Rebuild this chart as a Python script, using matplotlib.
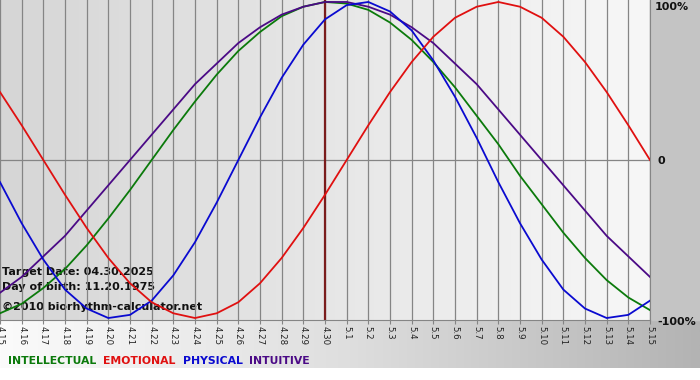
import numpy as np
import matplotlib
matplotlib.use('Agg')
import matplotlib.pyplot as plt

days = ['4.15', '4.16', '4.17', '4.18', '4.19', '4.20', '4.21', '4.22', '4.23', '4.24',
        '4.25', '4.26', '4.27', '4.28', '4.29', '4.30', '5.1', '5.2', '5.3', '5.4',
        '5.5', '5.6', '5.7', '5.8', '5.9', '5.10', '5.11', '5.12', '5.13', '5.14', '5.15']

intellectual = [-0.97, -0.91, -0.81, -0.69, -0.54, -0.37, -0.19, 0.00, 0.19, 0.37,
                0.54, 0.69, 0.81, 0.91, 0.97, 1.00, 0.99, 0.95, 0.87, 0.76,
                0.62, 0.46, 0.28, 0.10, -0.10, -0.28, -0.46, -0.62, -0.76, -0.87, -0.95]
emotional = [0.43, 0.22, 0.00, -0.22, -0.43, -0.62, -0.78, -0.90, -0.97, -1.00,
             -0.97, -0.90, -0.78, -0.62, -0.43, -0.22, 0.00, 0.22, 0.43, 0.62,
             0.78, 0.90, 0.97, 1.00, 0.97, 0.90, 0.78, 0.62, 0.43, 0.22, 0.00]
physical = [-0.14, -0.40, -0.63, -0.82, -0.94, -1.00, -0.98, -0.89, -0.73, -0.52,
            -0.27, 0.00, 0.27, 0.52, 0.73, 0.89, 0.98, 1.00, 0.94, 0.82,
            0.63, 0.40, 0.14, -0.14, -0.40, -0.63, -0.82, -0.94, -1.00, -0.98, -0.89]
intuitive = [-0.84, -0.74, -0.61, -0.48, -0.32, -0.16, 0.00, 0.16, 0.32, 0.48,
             0.61, 0.74, 0.84, 0.92, 0.97, 1.00, 1.00, 0.97, 0.92, 0.84,
             0.74, 0.61, 0.48, 0.32, 0.16, 0.00, -0.16, -0.32, -0.48, -0.61, -0.74]

target_idx = days.index('4.30')

c_int = '#0b7a0b'
c_emo = '#e01010'
c_phy = '#0a0ad0'
c_itu = '#4b0a86'
grid_c = '#858585'

W, H = 700, 380
fig = plt.figure(figsize=(7, 3.8), dpi=100)

# background, drawn in pixel coordinates
bg = fig.add_axes([0, 0, 1, 1])
bg.set_xlim(0, W)
bg.set_ylim(H, 0)
bg.axis('off')
grad = np.linspace(0, 1, 256).reshape(1, -1)
bg.imshow(grad, cmap=matplotlib.colors.LinearSegmentedColormap.from_list('a', ['#fbfbfb', '#dedede', '#b3b3b3']),
          extent=(0, W, 368, 320), aspect='auto', zorder=0)
bg.imshow(grad, cmap=matplotlib.colors.LinearSegmentedColormap.from_list('b', ['#d6d6d6', '#f7f7f7']),
          extent=(0, 650, 320, 0), aspect='auto', zorder=0)
bg.add_patch(plt.Rectangle((650, 0), 50, 320, color='#c4c4c4', zorder=0))

bold = dict(fontsize=8.0, fontweight='bold', color='#111111', family='DejaVu Sans')
bg.text(2, 272, 'Target Date: 04.30.2025', va='center', ha='left', zorder=5, **bold)
bg.text(2, 287, 'Day of birth: 11.20.1975', va='center', ha='left', zorder=5, **bold)
bg.text(2, 307, '\u00a92010 biorhythm-calculator.net', va='center', ha='left', zorder=5, **bold)

bg.text(655, 7, '100%', va='center', ha='left', **bold)
bg.text(657, 161, '0', va='center', ha='left', **bold)
bg.text(657, 322, '-100%', va='center', ha='left', **bold)

legend = [('INTELLECTUAL', c_int), ('EMOTIONAL', c_emo), ('PHYSICAL', c_phy), ('INTUITIVE', c_itu)]
xpos = 8
for name, col in legend:
    t = bg.text(xpos, 361, name, color=col, fontsize=7.8, fontweight='bold', va='center', ha='left')
    fig.canvas.draw()
    xpos += t.get_window_extent().width + 7

# main chart
ax = fig.add_axes([0, (H - 320) / H, 650 / W, 320 / H])
ax.set_facecolor('none')
x = np.arange(len(days))
ax.set_xlim(0, len(days) - 1)
ax.set_ylim(-1.0125, 1.0125)

for xi in x:
    ax.axvline(xi, color=grid_c, lw=0.9, zorder=1)
ax.axhline(0, color=grid_c, lw=0.9, zorder=1)
ax.axvline(target_idx, color='#7a1c1c', lw=1.6, zorder=2)

ax.plot(x, intellectual, color=c_int, lw=1.3, zorder=3)
ax.plot(x, intuitive, color=c_itu, lw=1.3, zorder=3)
ax.plot(x, physical, color=c_phy, lw=1.3, zorder=3)
ax.plot(x, emotional, color=c_emo, lw=1.3, zorder=3)

for s in ['top', 'left']:
    ax.spines[s].set_visible(False)
ax.spines['bottom'].set_color(grid_c)
ax.spines['right'].set_color(grid_c)
ax.set_yticks([])
ax.set_xticks(x)
ax.set_xticklabels(days, rotation=270, fontsize=6.2, color='#222222')
ax.tick_params(axis='x', length=3, color=grid_c, pad=1.5)

fig.savefig('out.png', dpi=100)
